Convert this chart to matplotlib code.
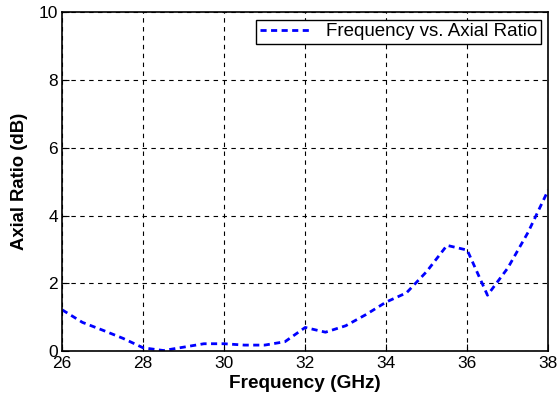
import numpy as np
import matplotlib
matplotlib.use("Agg")
import matplotlib.pyplot as plt

plt.rcParams["font.family"] = ["Liberation Sans", "DejaVu Sans"]

freq = [26, 26.5, 27, 27.5, 28, 28.5, 29, 29.5, 30, 30.5, 31, 31.5, 32,
        32.5, 33, 33.5, 34, 34.5, 35, 35.5, 36, 36.5, 37, 37.5, 38]
axial_ratio = [1.22, 0.85, 0.62, 0.38, 0.1, 0.02, 0.12, 0.22, 0.22, 0.18, 0.18, 0.28, 0.7,
               0.56, 0.75, 1.08, 1.45, 1.72, 2.35, 3.12, 2.98, 1.65, 2.45, 3.5, 4.75]
xticks = [26, 28, 30, 32, 34, 36, 38]
yticks = [0, 2, 4, 6, 8, 10]

fig = plt.figure(figsize=(5.6, 4.0), dpi=100)
ax = fig.add_axes([0.111, 0.122, 0.868, 0.848])
ax.plot(freq, axial_ratio, "--", color="blue", lw=2, dashes=(2.2, 1.6),
        label="Frequency vs. Axial Ratio")
ax.set_xlim(26, 38)
ax.set_ylim(0, 10)
ax.set_xticks(xticks)
ax.set_yticks(yticks)
ax.grid(True, color="black", linestyle=(0, (4, 4)), linewidth=0.8)
ax.tick_params(direction="in", labelsize=12.5, length=5, pad=2)
ax.tick_params(axis="x", pad=3.5)
ax.tick_params(axis="y", pad=3)
for s in ax.spines.values():
    s.set_linewidth(1.2)
ax.set_xlabel("Frequency (GHz)", fontsize=13.7, fontweight="bold", labelpad=3)
ax.set_ylabel("Axial Ratio (dB)", fontsize=13.3, fontweight="bold", labelpad=8)
leg = ax.legend(loc="upper right", fontsize=13.5, fancybox=False, framealpha=1,
                borderaxespad=0.4, handlelength=2.6, handletextpad=0.9, borderpad=0.2)
leg.get_frame().set_edgecolor("black")
leg.get_frame().set_linewidth(1)

plt.savefig("out.png")
